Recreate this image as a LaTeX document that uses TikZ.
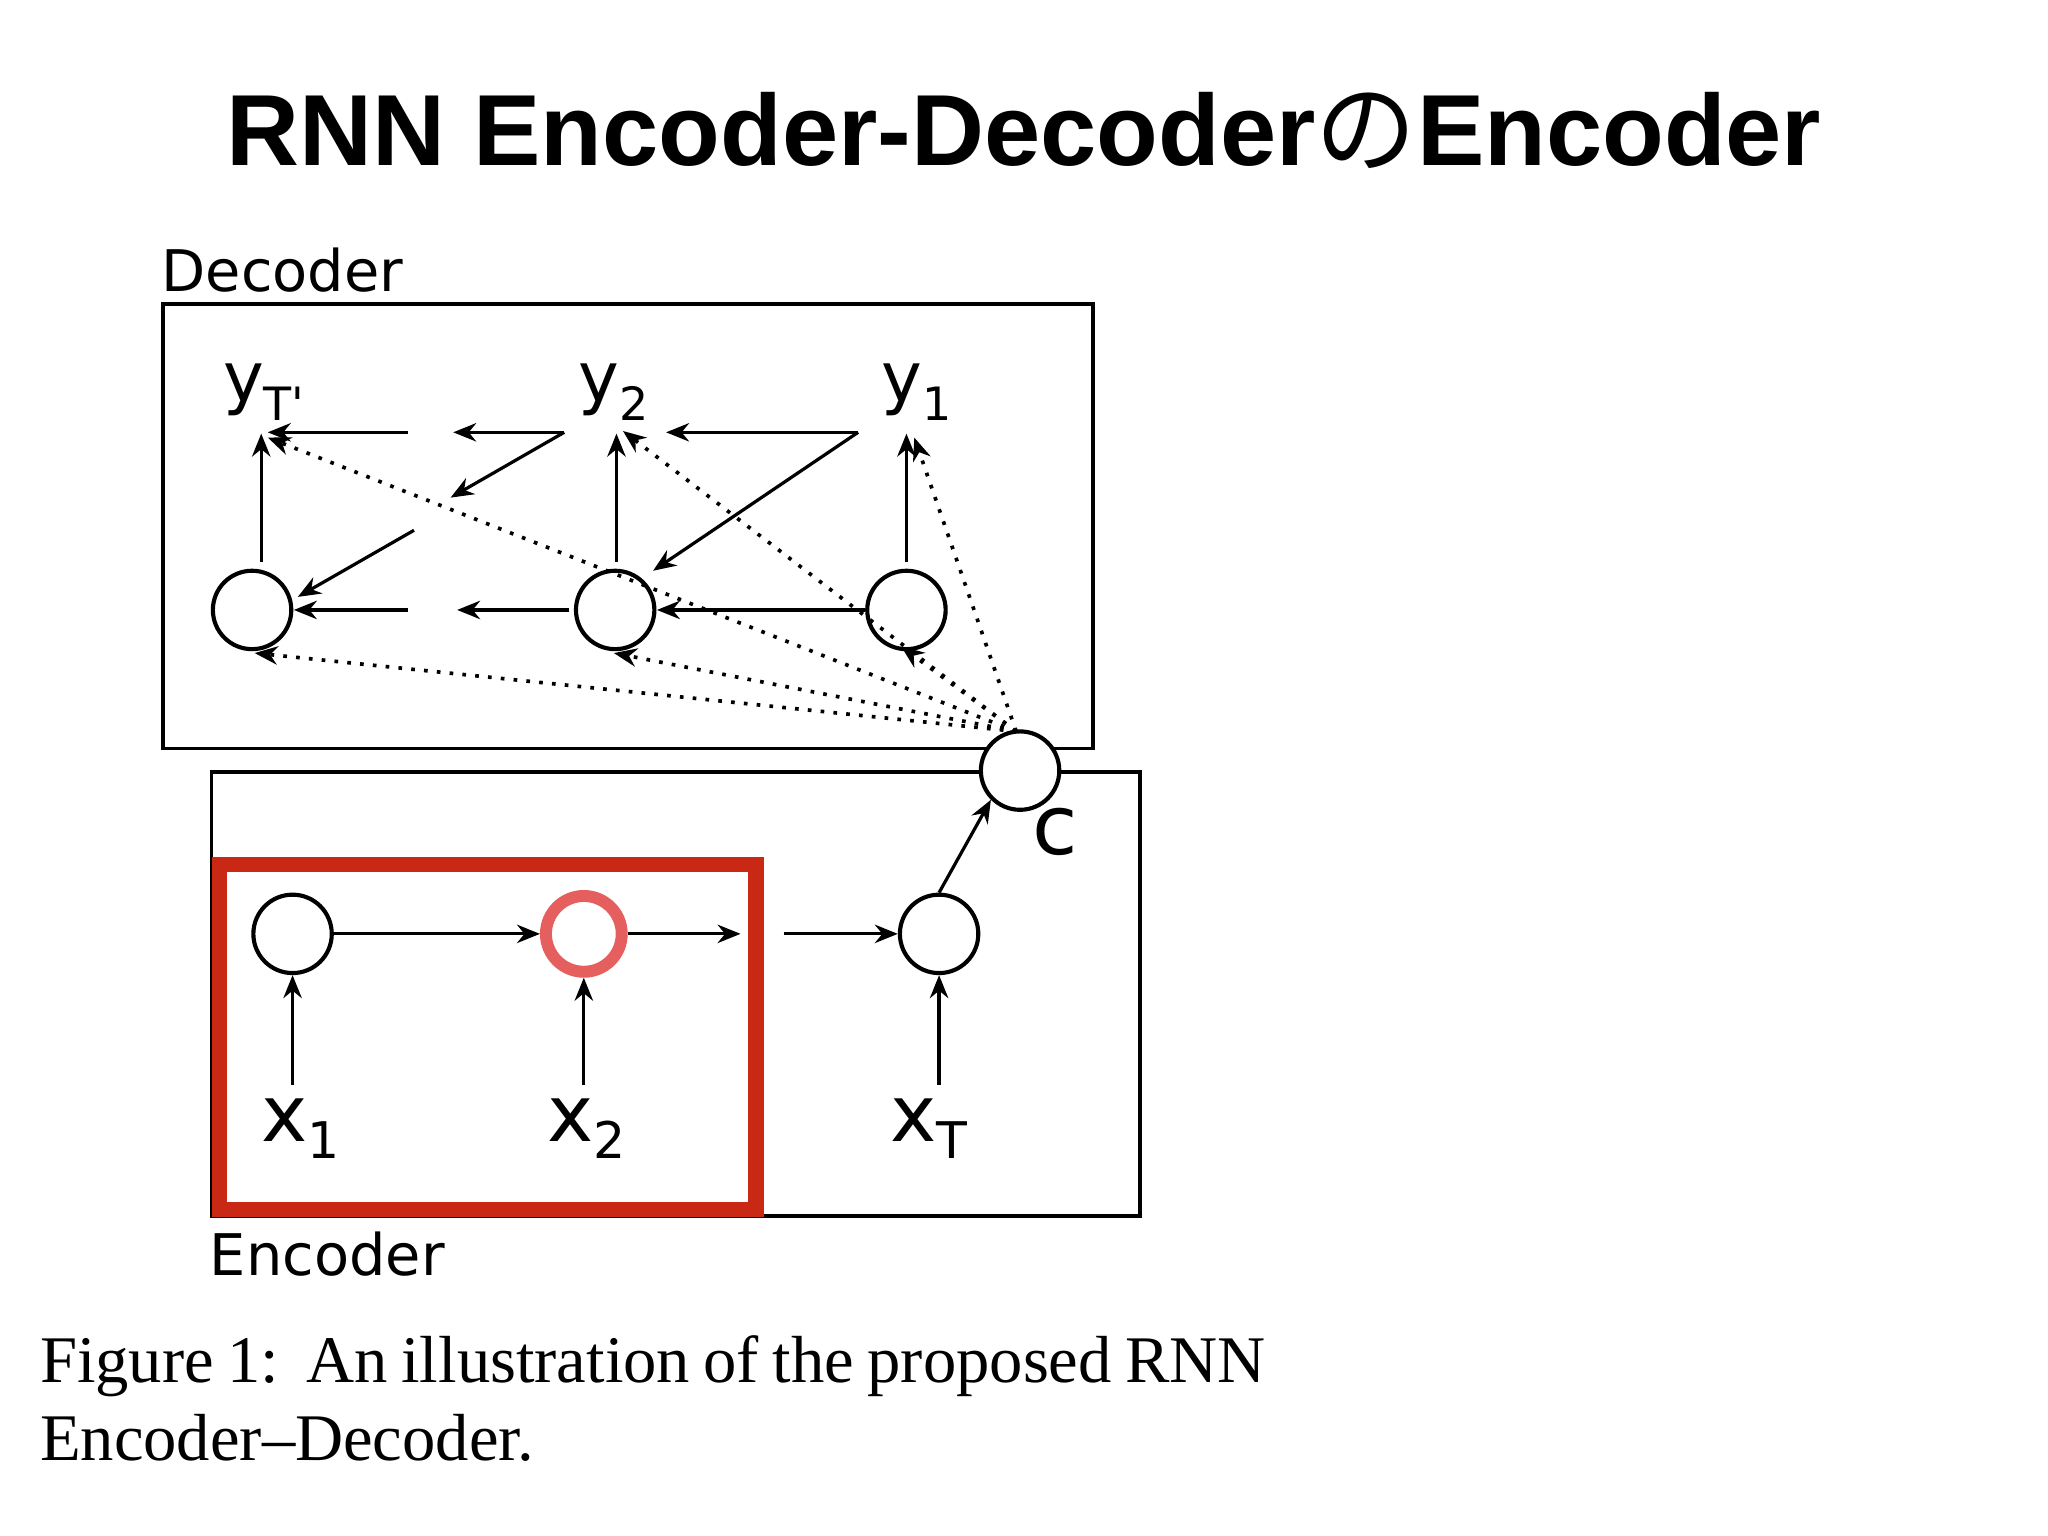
\documentclass[tikz,border=0pt]{standalone}
\usepackage{fontspec}
\setmainfont{Liberation Serif}
\newfontfamily\djv{DejaVu Sans}
\newfontfamily\lsans{Liberation Sans}
\newfontfamily\cjk{Noto Sans CJK JP}
\usetikzlibrary{arrows.meta}
\begin{document}
\begin{tikzpicture}[x=0.01cm,y=-0.01cm,
  cell/.style={circle,draw,line width=0.9pt,minimum size=0.6cm,inner sep=0},
  arr/.style={-{Stealth[length=5pt,width=4pt]},line width=0.7pt},
  dot/.style={-{Stealth[length=5pt,width=4pt]},line width=0.8pt,dotted},
  lab/.style={font=\djv\fontsize{15}{15}\selectfont,inner sep=0}]
\useasboundingbox (0,0) rectangle (1568,1176);
\node (title) at (784,100) {\lsans\bfseries\fontsize{22}{26}\selectfont RNN Encoder-Decoder{\cjk\mdseries の}Encoder};
\node[anchor=west,font=\djv\fontsize{12.5}{14}\selectfont,inner sep=0] (declab) at (123,207) {Decoder};
\node[anchor=west,font=\djv\fontsize{12.5}{14}\selectfont,inner sep=0] (enclab) at (160,960) {Encoder};
\draw[line width=0.8pt] (125,233) rectangle (837,573);
\draw[line width=0.8pt] (162,591) rectangle (873,931);
\draw[line width=3.4pt,color={rgb,255:red,200;green,40;blue,20}] (168,662) rectangle (579,926);
% decoder
\node[cell] (d1) at (193,467) {};
\node[cell] (d2) at (471,467) {};
\node[cell] (d3) at (694,467) {};
\node[lab] (yT) at (202,300) {y\raisebox{-0.5ex}{\fontsize{10}{10}\selectfont T'}};
\node[lab] (y2) at (470,300) {y\raisebox{-0.5ex}{\fontsize{10}{10}\selectfont 2}};
\node[lab] (y1) at (702,300) {y\raisebox{-0.5ex}{\fontsize{10}{10}\selectfont 1}};
\node[cell,fill=white] (c) at (781,590) {};
\node[lab,font=\djv\fontsize{18}{18}\selectfont] (clab) at (808,637) {c};
\coordinate (a1) at (312,331); \coordinate (a2) at (432,331); \coordinate (a3) at (657,331);
\coordinate (b1) at (317,406); \coordinate (b2) at (312,467); \coordinate (b3) at (436,467);
\coordinate (b4) at (662,467);
\draw[arr] (200,430) -- (200,332);
\draw[arr] (472,430) -- (472,332);
\draw[arr] (694,430) -- (694,332);
\draw[arr] (a1) -- (205,331);
\draw[arr] (a2) -- (347,331);
\draw[arr] (a3) -- (510,331);
\draw[arr] (a3) -- (500,437);
\draw[arr] (a2) -- (345,381);
\draw[arr] (b1) -- (228,457);
\draw[arr] (b2) -- (225,467);
\draw[arr] (b3) -- (350,467);
\draw[arr] (b4) -- (503,467);
\coordinate (ct) at (778,560);
\draw[dot] (ct) -- (205,335);
\draw[dot] (ct) -- (477,330);
\draw[dot] (ct) -- (700,335);
\draw[dot] (ct) -- (195,500);
\draw[dot] (ct) -- (470,500);
\draw[dot] (ct) -- (690,495);
% encoder
\node[cell] (e1) at (224,715) {};
\node[cell,draw={rgb,255:red,230;green,95;blue,95},line width=2.6pt,minimum size=0.58cm] (e2) at (447,715) {};
\node[cell] (e3) at (719,715) {};
\node[lab,font=\djv\fontsize{17}{17}\selectfont] (x1) at (230,864) {x\raisebox{-0.4ex}{\fontsize{11}{11}\selectfont 1}};
\node[lab,font=\djv\fontsize{17}{17}\selectfont] (x2) at (449,864) {x\raisebox{-0.4ex}{\fontsize{11}{11}\selectfont 2}};
\node[lab,font=\djv\fontsize{17}{17}\selectfont] (xT) at (711,864) {x\raisebox{-0.4ex}{\fontsize{11}{11}\selectfont T}};
\coordinate (m1) at (567,715); \coordinate (m2) at (600,715);
\draw[arr] (e1) -- (e2);
\draw[arr] (e2) -- (m1);
\draw[arr] (m2) -- (e3);
\draw[arr] (e3.north) -- (c.south west);
\draw[arr] (x1.north -| e1) ++(0,-10) -- (e1);
\draw[arr] (x2.north -| e2) ++(0,-10) -- (e2);
\draw[arr] (xT.north -| e3) ++(0,-10) -- (e3);
% caption
\node[anchor=north west,inner sep=0,text width=9.38cm,align=justify,font=\fontsize{14.5}{17}\selectfont] (cap) at (30,1022)
 {Figure 1:\ \ An illustration of the proposed RNN Encoder--Decoder.};
\end{tikzpicture}
\end{document}
